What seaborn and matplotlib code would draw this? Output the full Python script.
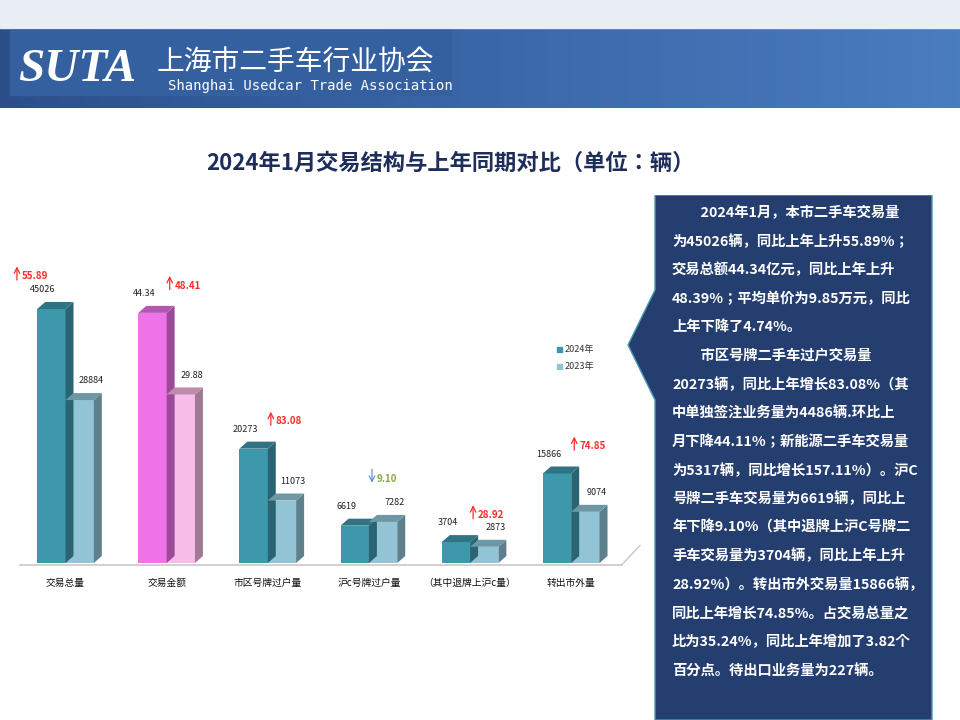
import numpy as np
import pandas as pd
import matplotlib
matplotlib.use("Agg")
import matplotlib.pyplot as plt
import seaborn as sns
from matplotlib.patches import Polygon, Rectangle

plt.rcParams["font.family"] = "sans-serif"
plt.rcParams["font.sans-serif"] = ["Noto Sans CJK SC", "Noto Sans CJK JP", "DejaVu Sans"]

categories = ["交易总量", "交易金额", "市区号牌过户量", "沪c号牌过户量", "（其中退牌上沪c量）", "转出市外量"]
values_2024 = [45026, 44340, 20273, 6619, 3704, 15866]   # 交易金额 drawn as 亿元 x1000
values_2023 = [28884, 29880, 11073, 7282, 2873, 9074]
labels_2024 = ["45026", "44.34", "20273", "6619", "3704", "15866"]
labels_2023 = ["28884", "29.88", "11073", "7282", "2873", "9074"]
change_pct = ["55.89", "48.41", "83.08", "9.10", "28.92", "74.85"]
change_up = [True, True, True, False, True, True]

panel_lines = [
    "　　2024年1月，本市二手车交易量",
    "为45026辆，同比上年上升55.89%；",
    "交易总额44.34亿元，同比上年上升",
    "48.39%；平均单价为9.85万元，同比",
    "上年下降了4.74%。",
    "　　市区号牌二手车过户交易量",
    "20273辆，同比上年增长83.08%（其",
    "中单独签注业务量为4486辆.环比上",
    "月下降44.11%；新能源二手车交易量",
    "为5317辆，同比增长157.11%）。沪C",
    "号牌二手车交易量为6619辆，同比上",
    "年下降9.10%（其中退牌上沪C号牌二",
    "手车交易量为3704辆，同比上年上升",
    "28.92%）。转出市外交易量15866辆，",
    "同比上年增长74.85%。占交易总量之",
    "比为35.24%，同比上年增加了3.82个",
    "百分点。待出口业务量为227辆。",
]

W, H = 960, 720
fig = plt.figure(figsize=(9.6, 7.2), dpi=100)
fig.patch.set_facecolor("white")

def px(x, y, w, h):
    return [x / W, 1 - (y + h) / H, w / W, h / H]

# header band
hax = fig.add_axes(px(0, 0, W, 108))
grad = np.linspace(0, 1, 256)[None, :]
hax.imshow(grad, aspect="auto", cmap=matplotlib.colors.LinearSegmentedColormap.from_list(
    "h", ["#2c4f8c", "#3a67a8", "#4a7cc0"]), extent=[0, 1, 0, 1])
hax.add_patch(Rectangle((0, 0.74), 1, 0.26, color="#e9eef5", transform=hax.transAxes))
hax.add_patch(Rectangle((0.01, 0.12), 0.46, 0.60, color="#3560a0", transform=hax.transAxes))
hax.set_axis_off()
fig.text(18 / W, 1 - 70 / H, "SUTA", color="white", fontsize=34, fontstyle="italic",
         fontweight="bold", family="Liberation Serif", va="center")
fig.text(157 / W, 1 - 63 / H, "上海市二手车行业协会", color="white", fontsize=20, va="center")
fig.text(168 / W, 1 - 86 / H, "Shanghai Usedcar Trade Association", color="white",
         fontsize=10, va="center", family="DejaVu Sans Mono")

fig.text(450 / W, 1 - 163 / H, "2024年1月交易结构与上年同期对比（单位：辆）",
         color="#1f2d5a", fontsize=16, fontweight="bold", ha="center", va="center")

# bar chart
ax = fig.add_axes(px(20, 290, 620, 273))
df = pd.DataFrame({
    "cat": categories * 2,
    "year": ["2024年"] * 6 + ["2023年"] * 6,
    "val": values_2024 + values_2023,
})
sns.barplot(data=df, x="cat", y="val", hue="year", hue_order=["2024年", "2023年"],
            palette=["#3e98ac", "#93c4d6"], width=0.56, ax=ax, legend=False,
            linewidth=0, saturation=1)
ymax = 45026 * 273 / 254
ax.set_ylim(0, ymax)
ax.set_xlim(-0.45, 5.68)
ax.set_axis_off()

dx = 8 / 101.5
dy = 7 / 273 * ymax
bars = ax.patches[:12]
for i, p in enumerate(bars):
    g = i % 6
    new = i < 6
    if g == 1:
        p.set_facecolor("#ee72e8" if new else "#f7bde8")
    x0, w, h = p.get_x(), p.get_width(), p.get_height()
    side = "#2a6472" if new else "#5e7f8c"
    top = "#2f7384" if new else "#6d97a5"
    if g == 1:
        side = "#9b4a9a" if new else "#a07a95"
        top = "#b556b2" if new else "#c08aac"
    ax.add_patch(Polygon([[x0 + w, 0], [x0 + w + dx, dy], [x0 + w + dx, h + dy], [x0 + w, h]],
                         color=side, lw=0))
    ax.add_patch(Polygon([[x0, h], [x0 + dx, h + dy], [x0 + w + dx, h + dy], [x0 + w, h]],
                         color=top, lw=0))

# floor
ax.plot([-0.45, 5.50], [-300, -300], color="#c8c8c8", lw=1.2, clip_on=False)
ax.plot([5.50, 5.68], [-300, dy * 2.5], color="#c8c8c8", lw=1, clip_on=False)

for g in range(6):
    b1, b2 = bars[g], bars[g + 6]
    ax.text(b1.get_x() + b1.get_width() * 0.2, b1.get_height() + dy + 1400, labels_2024[g],
            fontsize=6.5, ha="center", va="bottom", color="#222222")
    ax.text(b2.get_x() + b2.get_width() * 0.9, b2.get_height() + dy + 1400, labels_2023[g],
            fontsize=6.5, ha="center", va="bottom", color="#222222")
    up = change_up[g]
    col = "#ff2a2a" if up else "#6a8fd0"
    ax_x = b1.get_x() + b1.get_width() + 0.03
    ybase = max(b1.get_height(), b2.get_height()) + dy + (2400 if up else 5200)
    if g == 0:
        ax_x = b1.get_x() - 0.2
        ybase = b1.get_height() + dy + 3400
    ax.annotate("", xy=(ax_x, ybase + (3400 if up else 0)), xytext=(ax_x, ybase + (0 if up else 3400)),
                arrowprops=dict(arrowstyle="->", color=col, lw=0.9), annotation_clip=False)
    ax.text(ax_x + 0.05, ybase + 1200, change_pct[g], fontsize=7, fontweight="bold",
            color=col if up else "#8aa842", va="center")
    ax.text(g, -2600, categories[g], fontsize=7, ha="center", va="top", color="#111111")

# legend
for k, (lab, c) in enumerate([("2024年", "#3e98ac"), ("2023年", "#93c4d6")]):
    fig.patches.append(Rectangle(((557) / W, 1 - (352 + k * 17) / H), 5 / W, 5 / H,
                                 color=c, transform=fig.transFigure))
    fig.text(565 / W, 1 - (349 + k * 17) / H, lab, fontsize=6.5, va="center", color="#333333")

# text panel
pax = fig.add_axes(px(620, 195, 340, 525))
pax.set_xlim(620, 960)
pax.set_ylim(720, 195)
pax.set_axis_off()
pax.add_patch(Polygon([[655, 195], [932, 195], [932, 720], [655, 720], [655, 400],
                       [628, 345], [655, 290]], closed=True, facecolor="#253e70",
                      edgecolor="#4a9ab0", lw=1))
for k, line in enumerate(panel_lines):
    pax.text(672, 213 + k * 28.6, line, color="white", fontsize=10.3, fontweight="bold",
             va="center")

fig.savefig("out.png", dpi=100)
